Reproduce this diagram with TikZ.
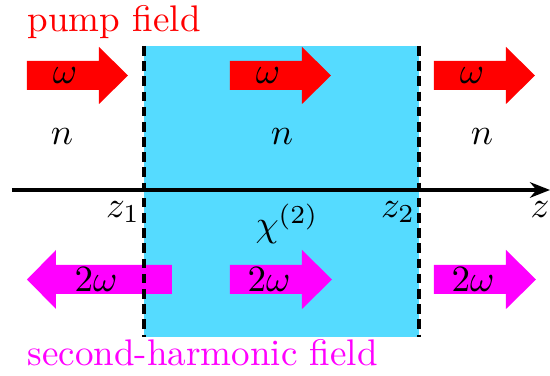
\documentclass[tikz,border=0pt]{standalone}
\usepackage{amsmath}
\usetikzlibrary{arrows.meta}
\usetikzlibrary{positioning}

\definecolor{crystal}{RGB}{85,219,255}
\definecolor{shg}{RGB}{255,0,255}
\definecolor{pumpred}{RGB}{255,0,0}

\begin{document}
\begin{tikzpicture}[
    x=0.27pt,
    y=-0.27pt,
    pump/.style={fill=pumpred},
    harm/.style={fill=shg},
    iface/.style={line width=1pt, dash pattern=on 2.6pt off 1.5pt},
    axis/.style={line width=0.9pt, -{Stealth[length=5.4pt, width=4.2pt]}},
    lbl/.style={inner sep=0pt}
]
\useasboundingbox (0,0) rectangle (550,376);

% Nonlinear crystal
\fill[crystal] (144,46) rectangle (419,337);

% z axis
\coordinate (zstart) at (12,190);
\coordinate (zend) at (550,190);
\draw[axis] (zstart) -- (zend);

% Pump arrows (omega)
\foreach \x/\nm in {27/a, 230/b, 434/c} {
    \fill[pump] (\x,61) -- ++(72,0) -- ++(0,-14) -- ++(29,28.5)
        -- ++(-29,28.5) -- ++(0,-14) -- ++(-72,0) -- cycle;
    \node[lbl] (w\nm) at (\x+38,75.5) {$\omega$};
}

% Second-harmonic arrows (2 omega)
\fill[harm] (172,265) -- (56,265) -- (56,250) -- (27,279.5)
    -- (56,309) -- (56,294) -- (172,294) -- cycle;
\node[lbl] (sa) at (96,279.5) {$2\omega$};
\foreach \x/\nm in {230/b, 434/c} {
    \fill[harm] (\x,265) -- ++(72,0) -- ++(0,-15) -- ++(30,29.5)
        -- ++(-30,29.5) -- ++(0,-15) -- ++(-72,0) -- cycle;
    \node[lbl] (s\nm) at (\x+39,279.5) {$2\omega$};
}

% Interfaces
\coordinate (ltop) at (144,46);
\coordinate (lbot) at (144,337);
\coordinate (rtop) at (419,46);
\coordinate (rbot) at (419,337);
\draw[iface] (ltop) -- (lbot);
\draw[iface] (rtop) -- (rbot);

% Refractive indices
\node[lbl] (na) at (62,137) {$n$};
\node[lbl] (nb) at (282,137) {$n$};
\node[lbl] (nc) at (482,137) {$n$};

% Axis labels
\node[lbl] (zone) at (123,212) {$z_1$};
\node[lbl] (ztwo) at (398,212) {$z_2$};
\node[lbl] (zlab) at (540,210) {$z$};
\node[lbl] (chi) at (287,224) {$\chi^{(2)}$};

% Field names
\node[lbl, anchor=base west, text=pumpred] (pumpname) at (27,32) {pump field};
\node[lbl, anchor=base west, text=shg] (shgname) at (27,366) {second-harmonic field};
\end{tikzpicture}
\end{document}
